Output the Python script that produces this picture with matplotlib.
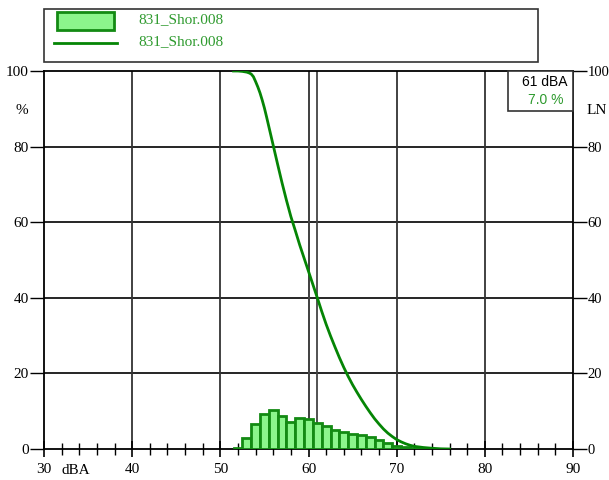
import matplotlib
matplotlib.use("Agg")
import matplotlib.pyplot as plt
from matplotlib.patches import Rectangle
from matplotlib.lines import Line2D

# ---- data ----
levels = [52, 53, 54, 55, 56, 57, 58, 59, 60, 61, 62, 63, 64, 65, 66, 67, 68, 69,
          70, 71, 72, 73, 74, 75]
dist_pct = [0.3, 2.8, 6.5, 9.3, 10.2, 8.8, 7.2, 8.3, 8.0, 7.0, 6.1, 4.9, 4.4, 4.1,
            3.7, 3.1, 2.3, 1.5, 0.7, 0.4, 0.25, 0.15, 0.08, 0.03]
ln_levels = [51.5, 52.0, 52.5, 53.0, 53.25, 53.5, 53.75, 54.0, 54.25, 54.5, 54.75,
             55.0, 55.25, 55.5, 55.75, 56.0, 56.5, 57.0, 57.5, 58.0, 58.5, 59.0,
             59.5, 60.0, 60.5, 61.0, 61.5, 62.0, 62.5, 63.0, 63.5, 64.0, 64.5,
             65.0, 65.5, 66.0, 66.5, 67.0, 67.5, 68.0, 68.5, 69.0, 69.5, 70.0,
             70.5, 71.0, 71.5, 72.0, 73.0, 74.0, 75.0, 76.0]
ln_pct = [100.0, 100.0, 99.9, 99.7, 99.5, 99.2, 98.5, 97.2, 95.8, 94.2, 92.3,
          90.2, 87.8, 85.3, 82.8, 80.3, 75.3, 70.4, 65.8, 61.5, 57.8, 54.0,
          50.5, 47.0, 43.5, 40.0, 36.4, 33.0, 29.9, 27.0, 24.2, 21.6, 19.2,
          17.0, 15.0, 13.1, 11.3, 9.6, 8.0, 6.6, 5.3, 4.2, 3.3, 2.5,
          1.9, 1.4, 1.0, 0.7, 0.4, 0.2, 0.05, 0.0]
x_ticks = [30, 40, 50, 60, 70, 80, 90]
y_ticks = [0, 20, 40, 60, 80, 100]
cursor_levels = [60, 61]
series_name = "831_Shor.008"
cursor_text = "61 dBA"
cursor_value = "7.0 %"

W, H = 609, 480
GREEN_TXT = "#2e9a2e"
serif = "Liberation Serif"

fig = plt.figure(figsize=(W / 100, H / 100), dpi=100)
L, R, T, B = 44, 573, 71, 449
ax = fig.add_axes([L / W, 1 - B / H, (R - L) / W, (B - T) / H])
ax.set_xlim(30, 90)
ax.set_ylim(0, 100)

# grid
for yv in y_ticks[1:-1]:
    ax.axhline(yv, color="black", lw=1.2, zorder=1)
for xv in x_ticks[1:-1]:
    ax.axvline(xv, color="#333333", lw=1.3, zorder=1)
for xv in cursor_levels:
    ax.axvline(xv, color="#444444", lw=1.3, zorder=1)

# bars and curve
ax.bar(levels, dist_pct, width=1.0, color="#8cf58c", edgecolor="#138a13",
       linewidth=2, zorder=3)
ax.plot(ln_levels, ln_pct, color="#058505", lw=2, zorder=4,
        solid_joinstyle="round")

for s in ax.spines.values():
    s.set_linewidth(1.3)
    s.set_color("black")

ax.set_xticks(x_ticks)
ax.set_xticks([v for v in range(30, 91, 2) if v % 10 != 0], minor=True)
ax.set_yticks(y_ticks)
ax.tick_params(axis="x", which="major", direction="inout", length=12, width=1.2,
               pad=4, labelsize=11)
ax.tick_params(axis="x", which="minor", direction="inout", length=8, width=1.0)
ax.tick_params(axis="y", which="major", direction="out", length=10, width=1.0,
               left=True, right=False, labelleft=True, labelright=False,
               pad=1, labelsize=11)
for lab in ax.get_xticklabels() + ax.get_yticklabels():
    lab.set_fontfamily(serif)

# right-side ticks/labels (LN axis)
axr = ax.twinx()
axr.set_ylim(0, 100)
axr.set_yticks(y_ticks)
axr.tick_params(axis="y", direction="out", length=10, width=1.0, pad=0.5,
                labelsize=10.5)
for lab in axr.get_yticklabels():
    lab.set_fontfamily(serif)
for s in axr.spines.values():
    s.set_visible(False)

def ft(px, py, s, **kw):
    fig.text(px / W, 1 - py / H, s, **kw)

ft(22, 110, "%", family=serif, fontsize=11, ha="center", va="center")
ft(597, 110, "LN", family=serif, fontsize=11, ha="center", va="center")
ft(76, 471, "dBA", family=serif, fontsize=11, ha="center", va="center")

# cursor box
fig.patches.append(Rectangle((508 / W, 1 - 111 / H), (573 - 508) / W, 40 / H,
                             transform=fig.transFigure, fill=True, facecolor="white",
                             edgecolor="#333333", lw=1.2, zorder=5))
ft(567, 82, cursor_text, family="Liberation Sans", fontsize=10, ha="right",
   va="center", color="black", zorder=6)
ft(564, 100, cursor_value, family="Liberation Sans", fontsize=10, ha="right",
   va="center", color=GREEN_TXT, zorder=6)

# legend box
fig.patches.append(Rectangle((44 / W, 1 - 62 / H), (538 - 44) / W, 53 / H,
                             transform=fig.transFigure, fill=False,
                             edgecolor="#333333", lw=1.2))
fig.patches.append(Rectangle((57 / W, 1 - 30 / H), 57 / W, 18 / H,
                             transform=fig.transFigure, facecolor="#8cf58c",
                             edgecolor="#138a13", lw=2))
fig.lines.append(Line2D([54 / W, 117 / W], [1 - 43 / H, 1 - 43 / H],
                        transform=fig.transFigure, color="#058505", lw=2))
ft(138, 20, series_name, family=serif, fontsize=11, ha="left", va="center",
   color=GREEN_TXT)
ft(138, 42, series_name, family=serif, fontsize=11, ha="left", va="center",
   color=GREEN_TXT)

fig.savefig("out.png", dpi=100)
